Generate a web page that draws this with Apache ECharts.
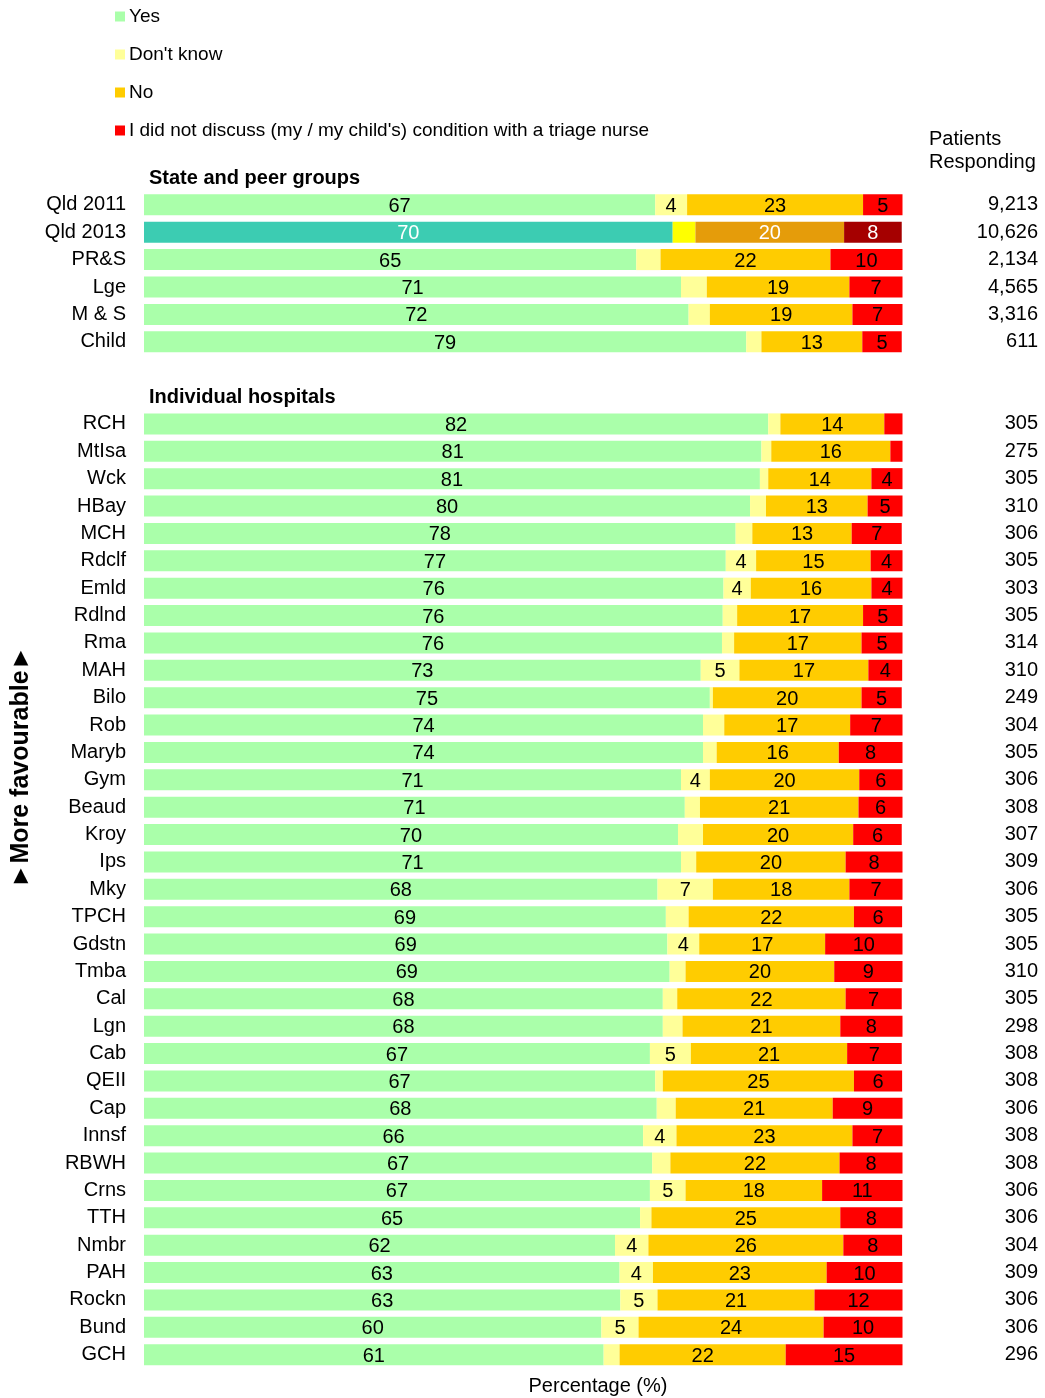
<!DOCTYPE html>
<html><head><meta charset="utf-8">
<script src="https://cdn.jsdelivr.net/npm/echarts@6/dist/echarts.min.js"></script>
<style>html,body{margin:0;padding:0;background:#fff}#c{width:1045px;height:1398px}</style>
</head><body><div id="c"></div>
<script>
// ---- data ----
const seriesNames = ['Yes', "Don't know", 'No', "I did not discuss (my / my child's) condition with a triage nurse"];
const headerTexts = ['State and peer groups', 'Individual hospitals'];

const groupNames = ['Qld 2011', 'Qld 2013', 'PR&S', 'Lge', 'M & S', 'Child'];
const groupYes = [67.4, 69.7, 64.9, 70.8, 71.8, 79.4];
const groupDK  = [4.2, 3.0, 3.2, 3.4, 2.8, 2.0];
const groupNo  = [23.2, 19.6, 22.4, 18.8, 18.8, 13.3];
const groupNot = [5.2, 7.6, 9.6, 7.0, 6.6, 5.2];
const groupN   = ['9,213', '10,626', '2,134', '4,565', '3,316', '611'];

const hospNames = ['RCH','MtIsa','Wck','HBay','MCH','Rdclf','Emld','Rdlnd','Rma','MAH','Bilo','Rob','Maryb','Gym','Beaud','Kroy','Ips','Mky','TPCH','Gdstn','Tmba','Cal','Lgn','Cab','QEII','Cap','Innsf','RBWH','Crns','TTH','Nmbr','PAH','Rockn','Bund','GCH'];
const hospYes = [82.3,81.4,81.2,79.9,78.0,76.7,76.4,76.3,76.2,73.4,74.6,73.7,73.7,70.8,71.3,70.4,70.8,67.7,68.8,69.0,69.3,68.4,68.4,66.7,67.4,67.6,65.8,67.0,66.7,65.4,62.1,62.7,62.8,60.3,60.6];
const hospDK  = [1.6,1.3,1.1,2.1,2.2,4.0,3.6,1.9,1.6,5.1,0.4,2.8,1.8,3.8,2.0,3.3,2.0,7.3,3.0,4.2,2.1,1.9,2.6,5.4,1.0,2.5,4.4,2.4,4.7,1.5,4.4,4.4,4.9,4.9,2.1];
const hospNo  = [13.7,15.7,13.6,13.4,13.1,15.1,15.9,16.6,16.8,17.0,19.6,16.6,16.1,19.7,20.9,19.8,19.7,18.0,21.8,16.6,19.6,22.2,20.8,20.6,25.2,20.7,23.2,22.3,18.0,24.9,25.7,22.9,20.7,24.4,21.9];
const hospNot = [2.4,1.6,4.2,4.6,6.6,4.3,4.1,5.25,5.4,4.46,5.3,7.0,8.4,5.7,5.8,6.4,7.5,7.0,6.35,10.2,9.2,7.4,8.2,7.2,6.35,9.2,6.6,8.3,10.6,8.2,7.75,10.0,11.7,10.4,15.4];
const hospN   = ['305','275','305','310','306','305','303','305','314','310','249','304','305','306','308','307','309','306','305','305','310','305','298','308','308','306','308','308','306','306','304','309','306','306','296'];

const highlightName = 'Qld 2013';

// ---- styles ----
const baseColors = ['#AAFFAA', '#FFFF99', '#FFCC00', '#FF0000'];
const hiColors   = ['#3CCCB2', '#FFFF00', '#E59C0A', '#A50000'];
const FONT = 'Liberation Sans, Arial, sans-serif';

// ---- build slots: header, groups, gap, header, hospitals ----
const slotKeys = ['__h1', ...groupNames, '__gap', '__h2', ...hospNames];
const slotN = ['', ...groupN, '', '', ...hospN];
const valueSets = [
  [groupYes, hospYes], [groupDK, hospDK], [groupNo, hospNo], [groupNot, hospNot]
];

function buildSeriesData(si) {
  const g = valueSets[si][0], h = valueSets[si][1];
  const out = [];
  out.push('-');
  groupNames.forEach((n, i) => {
    const item = { value: g[i] };
    if (n === highlightName) {
      item.itemStyle = { color: hiColors[si] };
      item.label = { color: '#fff' };
    }
    out.push(item);
  });
  out.push('-'); out.push('-');
  hospNames.forEach((n, i) => out.push({ value: h[i] }));
  return out;
}

const barSeries = seriesNames.map((name, si) => ({
  name, type: 'bar', stack: 'all', barWidth: 21,
  yAxisIndex: 0,
  itemStyle: { color: baseColors[si] },
  label: {
    show: true, position: 'inside', color: '#000', offset: [0, 1.5],
    fontFamily: FONT, fontSize: 20,
    formatter: p => (Math.round(p.value) >= 4 ? String(Math.round(p.value)) : '')
  },
  emphasis: { disabled: true },
  data: buildSeriesData(si)
}));

const headerSeries = {
  type: 'scatter', yAxisIndex: 0, symbolSize: 0, silent: true,
  itemStyle: { opacity: 1 },
  label: {
    show: true, position: 'right', distance: 5, color: '#000000', opacity: 1,
    fontFamily: FONT, fontSize: 20, fontWeight: 'bold', offset: [0, 1],
    formatter: p => headerTexts[p.dataIndex]
  },
  data: [[0, slotKeys.indexOf('__h1')], [0, slotKeys.indexOf('__h2')]]
};

const chart = echarts.init(document.getElementById('c'), null, { renderer: 'canvas' });
chart.setOption({
  animation: false,
  backgroundColor: '#fff',
  textStyle: { fontFamily: FONT },
  legend: {
    orient: 'vertical', left: 115, top: 7, padding: 0,
    itemWidth: 10, itemHeight: 10, itemGap: 19, icon: 'rect',
    textStyle: { fontFamily: FONT, fontSize: 19, color: '#000', padding: [0, 0, 0, -1] },
    selectedMode: false,
    data: seriesNames
  },
  grid: { left: 144, right: 142.5, top: 163.8, bottom: 29.6, containLabel: false },
  xAxis: {
    type: 'value', min: 0, max: 100,
    axisLine: { show: false }, axisTick: { show: false },
    axisLabel: { show: false }, splitLine: { show: false }
  },
  yAxis: [
    {
      type: 'category', inverse: true, data: slotKeys,
      axisLine: { show: false }, axisTick: { show: false },
      axisLabel: {
        margin: 18, color: '#000', fontFamily: FONT, fontSize: 20, padding: [4, 0, 0, 0],
        formatter: v => (v.startsWith('__') ? '' : v)
      }
    },
    {
      type: 'category', inverse: true, position: 'right', data: slotN,
      axisLine: { show: false }, axisTick: { show: false },
      axisLabel: { margin: 135.5, align: 'right', color: '#000', fontFamily: FONT, fontSize: 20, padding: [4, 0, 0, 0] }
    }
  ],
  graphic: [
    { type: 'text', left: 929, top: 128, style: { text: 'Patients\nResponding', font: '20px ' + FONT, fill: '#000', lineHeight: 23 } },
    { type: 'text', x: 598, y: 1386, style: { text: 'Percentage (%)', font: '20px ' + FONT, fill: '#000', align: 'center', verticalAlign: 'middle' } },
    { type: 'text', x: 21, y: 767, rotation: Math.PI / 2, style: { text: '►More favourable►', font: 'bold 25px ' + FONT, fill: '#000', align: 'center', verticalAlign: 'middle' } }
  ],
  series: [...barSeries, headerSeries]
});
</script></body></html>
